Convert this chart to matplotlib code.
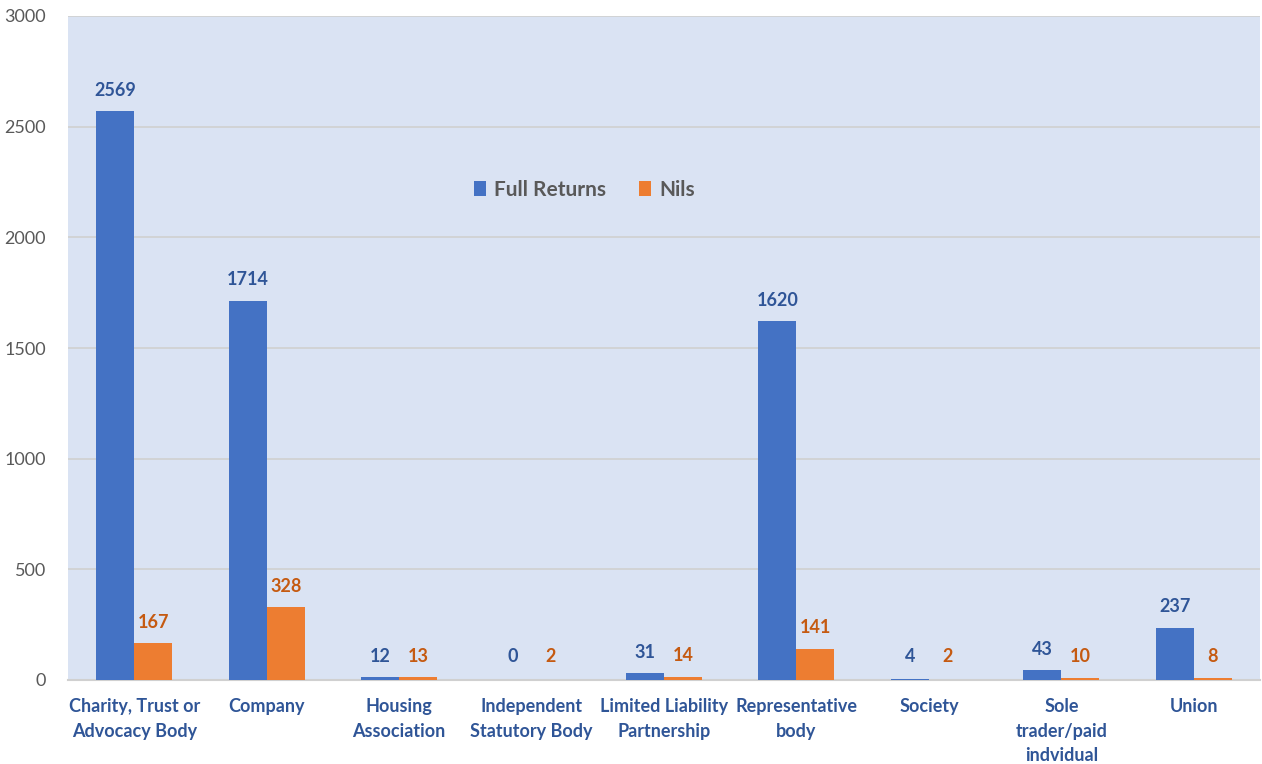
import numpy as np
import matplotlib
matplotlib.use("Agg")
import matplotlib.pyplot as plt

plt.rcParams['font.family'] = ['Lato', 'DejaVu Sans']

categories = ["Charity, Trust or\nAdvocacy Body", "Company", "Housing\nAssociation",
              "Independent\nStatutory Body", "Limited Liability\nPartnership",
              "Representative\nbody", "Society", "Sole\ntrader/paid\nindvidual", "Union"]
full_returns = [2569, 1714, 12, 0, 31, 1620, 4, 43, 237]
nils = [167, 328, 13, 2, 14, 141, 2, 10, 8]

blue = "#4472C4"
orange = "#ED7D31"
blue_txt = "#2F5597"
orange_txt = "#C55A11"

fig = plt.figure(figsize=(12.62, 7.64), dpi=100)
ax = fig.add_axes([68 / 1262, 1 - 680 / 764, (1260 - 68) / 1262, (680 - 16) / 764])
ax.set_facecolor("#DAE3F3")

x = np.arange(len(categories))
w = 0.287
b1 = ax.bar(x - w / 2, full_returns, w, color=blue, label="Full Returns", zorder=3)
b2 = ax.bar(x + w / 2, nils, w, color=orange, label="Nils", zorder=3)

for rect, v in zip(b1, full_returns):
    ax.annotate(str(v), (rect.get_x() + rect.get_width() / 2, max(v, 12)),
                xytext=(0, 9), textcoords="offset points", ha="center", va="bottom",
                color=blue_txt, fontsize=13, fontweight="bold")
for rect, v in zip(b2, nils):
    ax.annotate(str(v), (rect.get_x() + rect.get_width() / 2, max(v, 12)),
                xytext=(0, 9), textcoords="offset points", ha="center", va="bottom",
                color=orange_txt, fontsize=13, fontweight="bold")

ax.set_xlim(-0.5, len(categories) - 0.5)
ax.set_ylim(0, 3000)
ax.set_yticks(np.arange(0, 3001, 500))
ax.yaxis.grid(True, color="#D0D0D0", linewidth=1.2, zorder=0)
ax.set_axisbelow(True)
for s in ["left", "right", "top"]:
    ax.spines[s].set_visible(False)
ax.spines["bottom"].set_color("#D0D0D0")
ax.spines["bottom"].set_linewidth(1.5)

ax.set_xticks(x)
ax.set_xticklabels(categories, fontsize=13, fontweight="bold", color=blue_txt, linespacing=1.55)
ax.tick_params(axis="x", length=0, pad=13)
ax.tick_params(axis="y", length=0, pad=16, labelsize=13, labelcolor="#595959")

leg = ax.legend(loc="center left", bbox_to_anchor=(0.325, 0.738), ncol=2, frameon=False,
                fontsize=15, handlelength=0.55, handleheight=0.7, columnspacing=1.6,
                handletextpad=0.4)
for t in leg.get_texts():
    t.set_color("#595959")
    t.set_fontweight("bold")

fig.savefig("out.png", dpi=100)
